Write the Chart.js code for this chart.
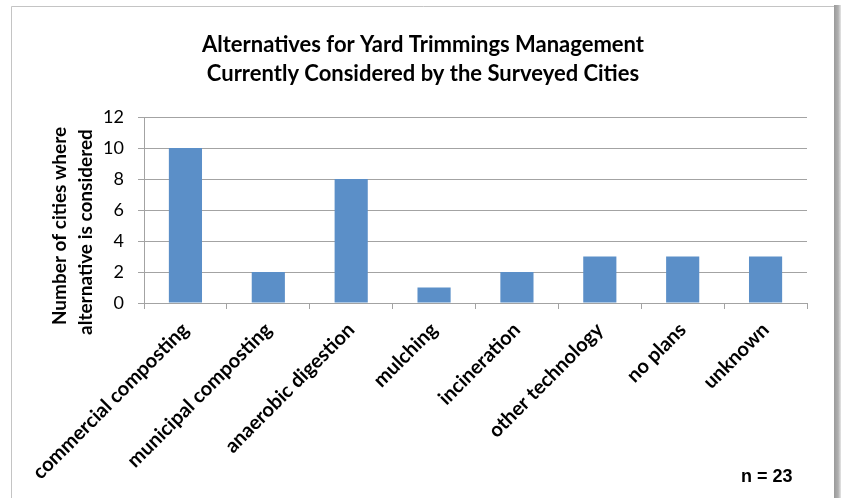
<!DOCTYPE html>
<html>
<head>
<meta charset="utf-8">
<script src="https://cdn.jsdelivr.net/npm/chart.js@4/dist/chart.umd.min.js"></script>
<style>
  html, body { margin: 0; padding: 0; background: #ffffff; }
  #wrap { width: 841px; height: 498px; position: relative; }
</style>
</head>
<body>
<div id="wrap"><canvas id="c" width="841" height="498"></canvas></div>
<script>
// Alternatives under consideration and how many surveyed cities consider each
const categories = [
  'commercial composting',
  'municipal composting',
  'anaerobic digestion',
  'mulching',
  'incineration',
  'other technology',
  'no plans',
  'unknown'
];
const citiesConsidering = [10, 2, 8, 1, 2, 3, 3, 3];
const yTicks = [0, 2, 4, 6, 8, 10, 12];

const chartTitle = [
  'Alternatives for Yard Trimmings Management',
  'Currently Considered by the Surveyed Cities'
];
const yAxisTitle = ['Number of cities where', 'alternative is considered'];
const sampleNote = 'n = 23';

const BAR_BLUE = '#5b8fc8';
const GRID_GREY = '#a3a3a3';
const LABEL_FONT = 'Lato, "Open Sans", sans-serif';

// Frame around the whole figure plus the free-standing texts
const decorations = {
  id: 'decorations',
  beforeDraw(chart) {
    const ctx = chart.ctx;
    ctx.save();
    ctx.fillStyle = '#ffffff';
    ctx.fillRect(0, 0, chart.width, chart.height);
    ctx.strokeStyle = '#c4c4c4';
    ctx.lineWidth = 1;
    ctx.beginPath();
    ctx.moveTo(11.5, chart.height + 2);
    ctx.lineTo(11.5, 6.5);
    ctx.lineTo(835, 6.5);
    ctx.stroke();
    const g = ctx.createLinearGradient(834, 0, 841, 0);
    g.addColorStop(0, '#9a9a9a');
    g.addColorStop(0.6, '#b0b0b0');
    g.addColorStop(1, '#e6e6e6');
    ctx.fillStyle = g;
    ctx.fillRect(834, 5, 7, chart.height);
    ctx.restore();
  },
  afterDraw(chart) {
    const ctx = chart.ctx;
    ctx.save();
    ctx.fillStyle = '#000000';

    // chart title
    ctx.font = 'bold 22px ' + LABEL_FONT;
    ctx.textAlign = 'center';
    ctx.textBaseline = 'alphabetic';
    ctx.fillText(chartTitle[0], 423, 52);
    ctx.fillText(chartTitle[1], 423, 81);

    // value axis title, rotated
    ctx.font = 'bold 19px ' + LABEL_FONT;
    [[66, 226, yAxisTitle[0]], [92, 232, yAxisTitle[1]]].forEach(([x, y, txt]) => {
      ctx.save();
      ctx.translate(x, y);
      ctx.rotate(-Math.PI / 2);
      ctx.fillText(txt, 0, 0);
      ctx.restore();
    });

    // sample size note
    ctx.font = 'bold 18px "Liberation Sans", Arial, sans-serif';
    ctx.textAlign = 'left';
    ctx.fillText(sampleNote, 741, 482);
    ctx.restore();
  }
};

new Chart(document.getElementById('c'), {
  type: 'bar',
  data: {
    labels: categories,
    datasets: [{
      data: citiesConsidering,
      backgroundColor: BAR_BLUE,
      borderWidth: 0,
      barPercentage: 0.4,
      categoryPercentage: 1.0
    }]
  },
  options: {
    responsive: false,
    animation: false,
    events: [],
    layout: { padding: { left: 0, right: 34, top: 117, bottom: 0 } },
    plugins: {
      legend: { display: false },
      title: { display: false },
      tooltip: { enabled: false }
    },
    scales: {
      x: {
        grid: {
          display: true,
          drawOnChartArea: false,
          drawTicks: true,
          tickLength: 6,
          color: GRID_GREY,
          offset: true
        },
        border: { display: true, color: GRID_GREY, width: 1 },
        ticks: {
          autoSkip: false,
          minRotation: 45,
          maxRotation: 45,
          padding: 9,
          color: '#000000',
          font: { family: LABEL_FONT, size: 20, weight: 'bold' }
        },
        afterFit(scale) { scale.height = 195; }
      },
      y: {
        min: yTicks[0],
        max: yTicks[yTicks.length - 1],
        grid: {
          color: GRID_GREY,
          lineWidth: 1,
          drawTicks: true,
          tickLength: 6
        },
        border: { display: true, color: GRID_GREY, width: 1 },
        ticks: {
          stepSize: yTicks[1] - yTicks[0],
          padding: 14,
          color: '#000000',
          font: { family: LABEL_FONT, size: 18 }
        },
        afterFit(scale) { scale.width = 144; }
      }
    }
  },
  plugins: [decorations]
});
</script>
</body>
</html>
